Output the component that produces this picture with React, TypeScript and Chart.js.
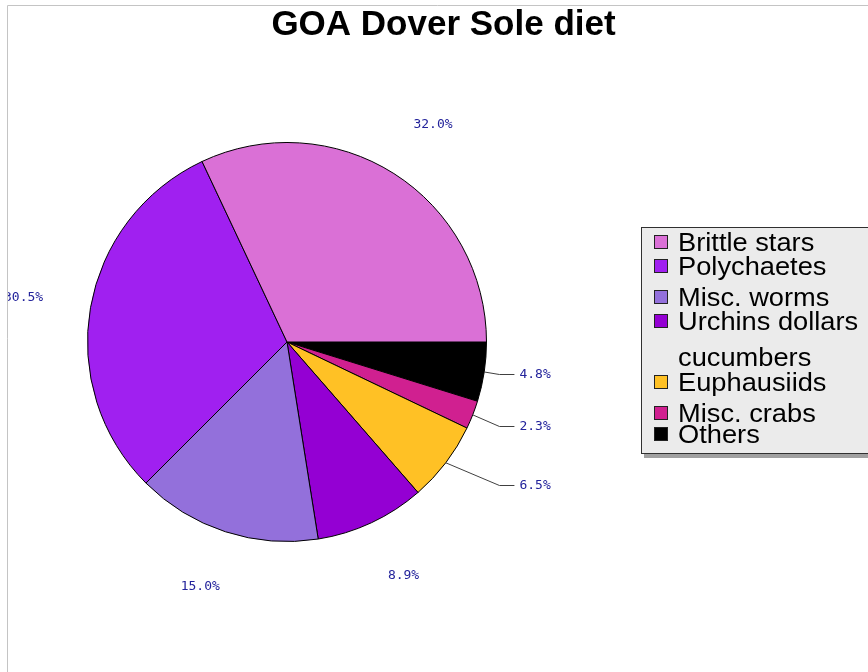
import { useEffect, useRef } from 'react';
import { Chart, registerables } from 'chart.js';

Chart.register(...registerables);

const chartTitle = 'GOA Dover Sole diet';
const categories = ['Brittle stars', 'Polychaetes', 'Misc. worms', 'Urchins dollars cucumbers', 'Euphausiids', 'Misc. crabs', 'Others'];
const legendText = [['Brittle stars'], ['Polychaetes'], ['Misc. worms'], ['Urchins dollars', 'cucumbers'], ['Euphausiids'], ['Misc. crabs'], ['Others']];
const shares = [32.0, 30.5, 15.0, 8.9, 6.5, 2.3, 4.8];
const colors = ['#DA70D6', '#A020F0', '#9370DB', '#9400D3', '#FFC125', '#D02090', '#000000'];

// layout constants
const LEGEND = { x: 641, y: 227, w: 240, h: 227 };
const LEGEND_LINE_BASELINES = [24, 48, 79, 103, 139, 164, 195, 216];

const decorPlugin = {
  id: 'decor',
  afterDraw(chart: any) {
    const ctx = chart.ctx as CanvasRenderingContext2D;
    // frame
    ctx.save();
    ctx.strokeStyle = '#c4c4c4';
    ctx.lineWidth = 1;
    ctx.beginPath();
    ctx.moveTo(7.5, 672);
    ctx.lineTo(7.5, 5.5);
    ctx.lineTo(868, 5.5);
    ctx.stroke();
    ctx.restore();

    ctx.save();
    ctx.beginPath();
    ctx.rect(8, 6, 860, 666);
    ctx.clip();

    // title
    ctx.fillStyle = '#000';
    ctx.font = 'bold 35px "Liberation Sans", Arial, sans-serif';
    ctx.textAlign = 'center';
    ctx.textBaseline = 'alphabetic';
    ctx.fillText(chartTitle, 443.5, 35);

    // percent labels
    const meta = chart.getDatasetMeta(0);
    const data = chart.data.datasets[0].data as number[];
    const total = data.reduce((a, b) => a + b, 0);
    ctx.font = '13px "DejaVu Sans Mono", monospace';
    ctx.fillStyle = '#23239b';
    ctx.strokeStyle = '#404040';
    ctx.lineWidth = 1;
    meta.data.forEach((arc: any, i: number) => {
      const p = arc.getProps(['x', 'y', 'startAngle', 'endAngle', 'outerRadius'], true);
      const mid = (p.startAngle + p.endAngle) / 2;
      const c = Math.cos(mid);
      const s = Math.sin(mid);
      const R = p.outerRadius;
      const pct = (data[i] / total) * 100;
      const txt = pct.toFixed(1) + '%';
      if (pct < 7 && c > 0) {
        const sx = p.x + R * c;
        const sy = p.y + R * s;
        const ly = Math.round(p.y - 4.5 + 1.22 * R * s) + 0.5;
        const bx = p.x + 1.065 * R;
        const ex = p.x + 1.14 * R;
        ctx.beginPath();
        ctx.moveTo(sx, sy);
        ctx.lineTo(bx, ly);
        ctx.lineTo(ex, ly);
        ctx.stroke();
        ctx.textAlign = 'left';
        ctx.textBaseline = 'middle';
        ctx.fillText(txt, p.x + 1.165 * R, ly);
      } else {
        const lx = p.x + 1.31 * R * c + Math.sign(c) * 6;
        const ly = p.y + 1.29 * R * s;
        ctx.textAlign = 'center';
        ctx.textBaseline = 'middle';
        ctx.fillText(txt, lx, ly);
      }
    });

    // legend
    ctx.fillStyle = '#a0a0a0';
    ctx.fillRect(LEGEND.x + 3, LEGEND.y + 3, LEGEND.w, LEGEND.h + 1);
    ctx.fillStyle = '#ebebeb';
    ctx.fillRect(LEGEND.x, LEGEND.y, LEGEND.w, LEGEND.h);
    ctx.strokeStyle = '#303030';
    ctx.strokeRect(LEGEND.x + 0.5, LEGEND.y + 0.5, LEGEND.w, LEGEND.h - 1);

    ctx.font = '25px "Liberation Sans", Arial, sans-serif';
    ctx.textAlign = 'left';
    ctx.textBaseline = 'alphabetic';
    let line = 0;
    categories.forEach((_, i) => {
      const lines = legendText[i];
      const base = LEGEND.y + LEGEND_LINE_BASELINES[line];
      ctx.fillStyle = colors[i];
      ctx.fillRect(LEGEND.x + 14, base - 15, 12, 12);
      ctx.strokeStyle = '#222';
      ctx.strokeRect(LEGEND.x + 13.5, base - 15.5, 13, 13);
      lines.forEach((t) => {
        const b = LEGEND.y + LEGEND_LINE_BASELINES[line];
        ctx.save();
        ctx.translate(LEGEND.x + 37, b);
        ctx.scale(1.09, 1);
        ctx.fillStyle = '#000';
        ctx.fillText(t, 0, 0);
        ctx.restore();
        line++;
      });
    });
    ctx.restore();
  },
};

export default function App() {
  const ref = useRef<HTMLCanvasElement | null>(null);
  useEffect(() => {
    if (!ref.current) return;
    const order = categories.map((_, i) => i).reverse();
    const chart = new Chart(ref.current, {
      type: 'pie',
      data: {
        labels: order.map((i) => categories[i]),
        datasets: [
          {
            data: order.map((i) => shares[i]),
            backgroundColor: order.map((i) => colors[i]),
            borderColor: '#000',
            borderWidth: 1,
          },
        ],
      },
      options: {
        responsive: false,
        animation: false,
        rotation: 90,
        layout: { padding: { left: 87, top: 142, right: 381, bottom: 130 } },
        plugins: {
          legend: { display: false },
          title: { display: false },
          tooltip: { enabled: false },
        },
      },
      plugins: [decorPlugin],
    });
    return () => chart.destroy();
  }, []);
  return (
    <div style={{ position: 'absolute', left: 0, top: 0, width: 868, height: 672, background: '#fff' }}>
      <canvas ref={ref} width={868} height={672} style={{ display: 'block' }} />
    </div>
  );
}
